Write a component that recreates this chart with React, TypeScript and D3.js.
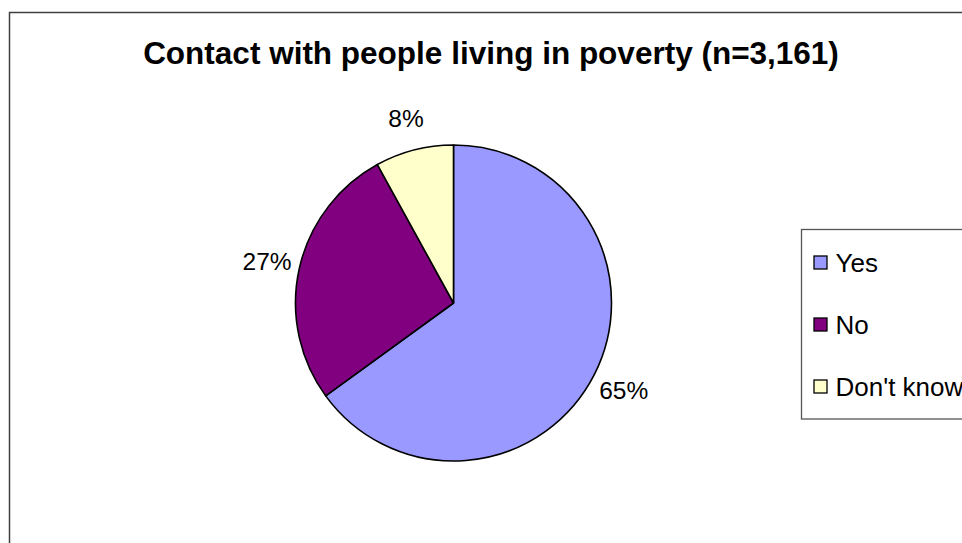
import React from "react";
import * as d3 from "d3";

const categories = ["Yes", "No", "Don't know"];
const values = [65, 27, 8];
const labels = ["65%", "27%", "8%"];
const colors = ["#9999FF", "#800080", "#FFFFCC"];
const title = "Contact with people living in poverty (n=3,161)";

const W = 962;
const H = 543;
const cx = 453.5;
const cy = 303;
const R = 158;
const labelR = 191;
const FONT = "'Liberation Sans', Arial, sans-serif";

export default function App() {
  const pie = d3.pie<number>().sort(null).value((d) => d)(values);
  const arc = d3.arc<d3.PieArcDatum<number>>().innerRadius(0).outerRadius(R);
  const labelArc = d3
    .arc<d3.PieArcDatum<number>>()
    .innerRadius(labelR)
    .outerRadius(labelR);

  const legendY = d3
    .scalePoint<string>()
    .domain(categories)
    .range([262.5, 386.5]);

  return (
    <svg
      width={W}
      height={H}
      style={{ position: "absolute", left: 0, top: 0, background: "#fff" }}
      fontFamily={FONT}
    >
      <rect x={0} y={0} width={W} height={H} fill="#fff" />
      <rect
        x={9.5}
        y={12.5}
        width={W + 50}
        height={H + 50}
        fill="none"
        stroke="#404040"
        strokeWidth={1.5}
      />
      <text
        x={491}
        y={64}
        textAnchor="middle"
        fontSize={31.5}
        fontWeight="bold"
        fill="#000"
      >
        {title}
      </text>
      <g transform={`translate(${cx},${cy})`}>
        {pie.map((d, i) => (
          <path
            key={categories[i]}
            d={arc(d) || ""}
            fill={colors[i]}
            stroke="#000"
            strokeWidth={1.6}
            strokeLinejoin="round"
          />
        ))}
        {pie.map((d, i) => {
          const [lx, ly] = labelArc.centroid(d);
          return (
            <text
              key={"l" + i}
              x={lx}
              y={ly}
              dy="0.36em"
              textAnchor="middle"
              fontSize={24.5}
              fill="#000"
            >
              {labels[i]}
            </text>
          );
        })}
      </g>
      <rect
        x={801.5}
        y={229.5}
        width={200}
        height={189.5}
        fill="#fff"
        stroke="#555"
        strokeWidth={1.3}
      />
      {categories.map((c, i) => {
        const y = legendY(c) as number;
        return (
          <g key={"lg" + c}>
            <rect
              x={814}
              y={y - 6.5}
              width={13}
              height={13}
              fill={colors[i]}
              stroke="#000"
              strokeWidth={1.3}
            />
            <text x={835.5} y={y} dy="0.36em" fontSize={26} fill="#000">
              {c}
            </text>
          </g>
        );
      })}
    </svg>
  );
}
